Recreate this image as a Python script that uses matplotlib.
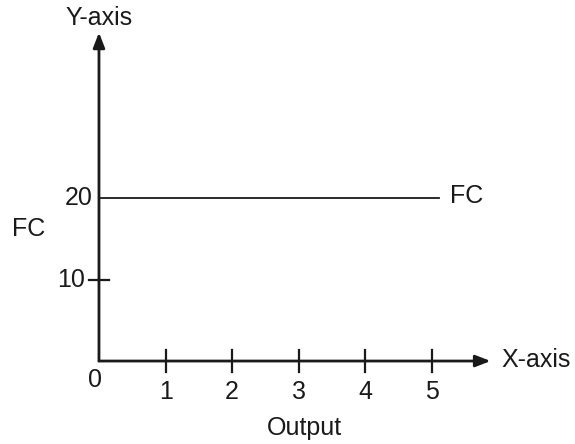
import numpy as np
import matplotlib.pyplot as plt

# Datos
output = [1, 2, 3, 4, 5]
y_ticks = [10, 20]
fc_x = [0, 5.1]
fc_y = [20, 20]

plt.rcParams['font.family'] = ['Liberation Sans', 'DejaVu Sans']

fig = plt.figure(figsize=(5.75, 4.44), dpi=100)
ax = fig.add_axes([0, 0, 1, 1])
ax.set_xlim(-1.486, 7.147)
ax.set_ylim(-10.18, 44.29)
ax.axis('off')

col = '#1a1a1a'
fs = 18

# Ejes con flechas
ax.annotate('', xy=(5.88, 0), xytext=(0, 0),
            arrowprops=dict(arrowstyle='-|>,head_length=0.9,head_width=0.35',
                            color=col, lw=2, shrinkA=0, shrinkB=0))
ax.annotate('', xy=(0, 40.3), xytext=(0, 0),
            arrowprops=dict(arrowstyle='-|>,head_length=0.9,head_width=0.35',
                            color=col, lw=2, shrinkA=0, shrinkB=0))

# Marcas en el eje X
for x in output:
    ax.plot([x, x], [-1.3, 1.3], color=col, lw=1.6)
    ax.text(x, -3.8, str(x), ha='center', va='center', fontsize=fs, color=col)
ax.text(-0.06, -2.3, '0', ha='center', va='center', fontsize=fs, color=col)

# Marca en el eje Y (solo 10 tiene marca)
ax.plot([-0.15, 0.15], [y_ticks[0], y_ticks[0]], color=col, lw=1.6)
ax.text(-0.21, y_ticks[0], str(y_ticks[0]), ha='right', va='center',
        fontsize=fs, color=col)
ax.text(-0.09, y_ticks[1], str(y_ticks[1]), ha='right', va='center',
        fontsize=fs, color=col)

# Curva de costo fijo
ax.plot(fc_x, fc_y, color=col, lw=1.3)
ax.text(5.27, 20.3, 'FC', ha='left', va='center', fontsize=fs, color=col)
ax.text(-1.3, 16.2, 'FC', ha='left', va='center', fontsize=fs, color=col)

# Etiquetas de ejes
ax.text(0.0, 42.1, 'Y-axis', ha='center', va='center', fontsize=fs, color=col)
ax.text(6.05, 0.1, 'X-axis', ha='left', va='center', fontsize=fs, color=col)
ax.text(3.08, -8.2, 'Output', ha='center', va='center', fontsize=fs, color=col)

fig.savefig('out.png')
